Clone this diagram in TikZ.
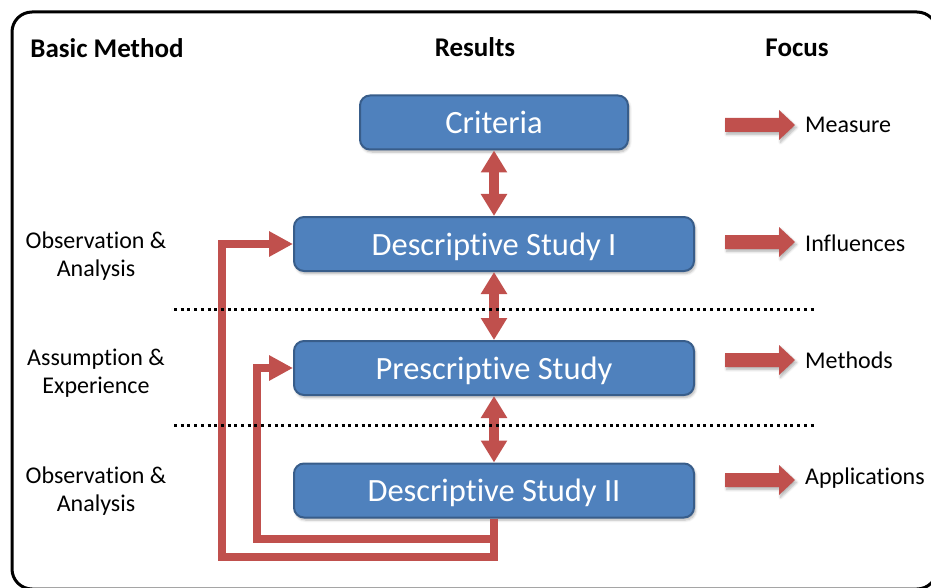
\documentclass[tikz,border=0pt]{standalone}
\usepackage{fontspec}
\setmainfont{Carlito}[Ligatures=NoCommon]
\usetikzlibrary{arrows.meta,shadows.blur}

\definecolor{boxblue}{HTML}{4F81BD}
\definecolor{boxedge}{HTML}{385D8A}
\definecolor{flowred}{HTML}{C0504D}

\begin{document}
\begin{tikzpicture}[x=1pt,y=-1pt,
  softshadow/.style={blur shadow={shadow xshift=1.5pt, shadow yshift=-2.5pt,
      shadow opacity=30, shadow blur steps=6, shadow blur radius=2.5pt}},
  stagebox/.style={draw=boxedge, line width=2pt, fill=boxblue,
      rounded corners=10pt, minimum height=54pt, inner sep=0pt,
      text height=23pt, text depth=0.5pt,
      text=white, font=\fontsize{32.5}{38}\selectfont, softshadow},
  header/.style={font=\bfseries\fontsize{27}{32}\selectfont},
  sidelabel/.style={align=center, inner sep=0pt,
      font=\fontsize{24}{28}\selectfont},
  focuslabel/.style={anchor=west, inner sep=0pt,
      font=\fontsize{24}{28}\selectfont},
  blockarrow/.style={fill=flowred, draw=none, softshadow},
  link/.style={draw=flowred, line width=10pt,
      {Triangle[width=25pt,length=22pt]}-{Triangle[width=25pt,length=22pt]}},
  feedback/.style={draw=flowred, line width=7.5pt,
      -{Triangle[width=24pt,length=24pt]}},
  separator/.style={draw=black, line width=3pt,
      dash pattern=on 3pt off 3.7pt},
  frame/.style={draw=black, line width=3pt, rounded corners=20pt},
  % block arrow pointing right, drawn around its centre
  focusarrow/.pic={
    \path[blockarrow] (-35,-7) -- (19,-7) -- (19,-15) -- (35,0)
      -- (19,15) -- (19,7) -- (-35,7) -- cycle;
  }
]
\clip (0,0) rectangle (931,588);

% outer frame
\draw[frame] (12,12) rectangle (937,589);

% column headers
\node[header] (hmethod) at (107,48) {Basic Method};
\node[header] (hresults) at (475,47) {Results};
\node[header] (hfocus) at (797,48) {Focus};

% stages
\node[stagebox, minimum width=268pt] (crit) at (494,122.5) {Criteria};
\node[stagebox, minimum width=400pt] (dsone) at (494,244) {Descriptive Study I};
\node[stagebox, minimum width=400pt] (pres) at (494,368) {Prescriptive Study};
\node[stagebox, minimum width=400pt] (dstwo) at (494,490.5) {Descriptive Study II};

% links between stages
\draw[link] (crit.south) -- (dsone.north);
\draw[link] (dsone.south) -- (pres.north);
\draw[link] (pres.south) -- (dstwo.north);

% feedback loops
\coordinate (outerturn) at (222,557);
\coordinate (innerturn) at (257,539);
\draw[feedback] (dstwo.south) |- (outerturn) |- (dsone.west);
\draw[feedback] (dstwo.south) |- (innerturn) |- (pres.west);

% phase separators
\coordinate (sepaw) at (174,309);
\coordinate (sepae) at (815,309);
\coordinate (sepbw) at (174,425);
\coordinate (sepbe) at (815,425);
\draw[separator] (sepaw) -- (sepae);
\draw[separator] (sepbw) -- (sepbe);

% basic method labels
\node[sidelabel] (mone) at (96,256) {Observation \&\\Analysis};
\node[sidelabel] (mtwo) at (96,373) {Assumption \&\\Experience};
\node[sidelabel] (mthree) at (96,491) {Observation \&\\Analysis};

% focus arrows and labels
\pic (fone) at (760,125) {focusarrow};
\pic (ftwo) at (760,242) {focusarrow};
\pic (fthree) at (760,360) {focusarrow};
\pic (ffour) at (760,480) {focusarrow};
\node[focuslabel] (lone) at (805,125) {Measure};
\node[focuslabel] (ltwo) at (805,243) {Influences};
\node[focuslabel] (lthree) at (805,360) {Methods};
\node[focuslabel] (lfour) at (805,478) {Applications};
\end{tikzpicture}
\end{document}
